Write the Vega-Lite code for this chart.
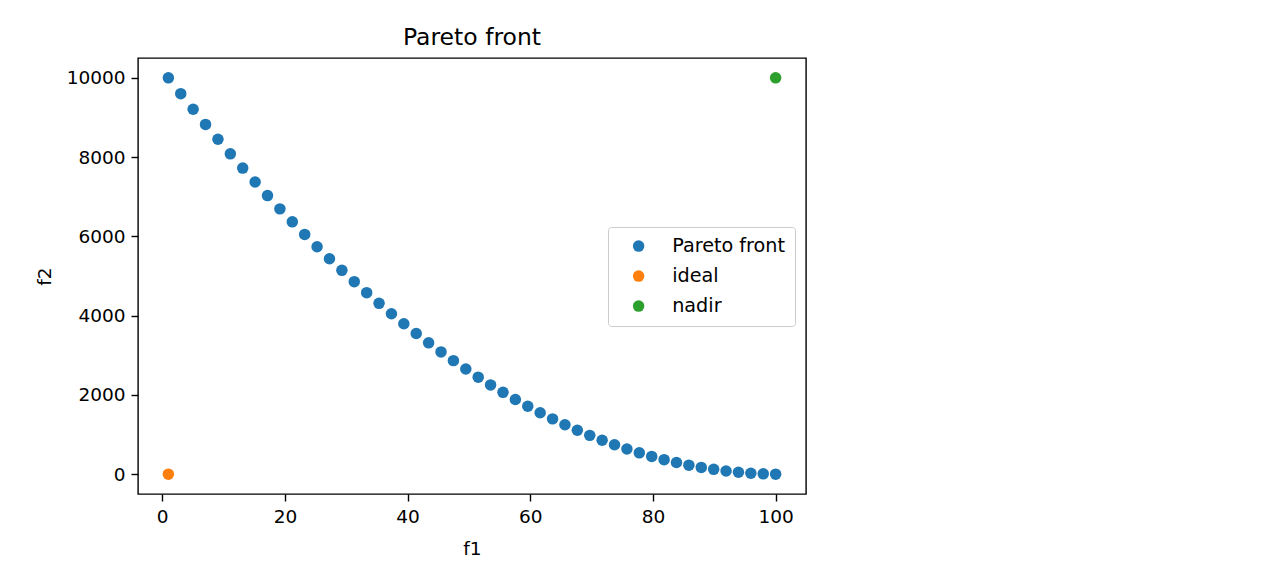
{
  "$schema": "https://vega.github.io/schema/vega-lite/v6.json",
  "autosize": {"type": "none"},
  "padding": {"left": 138, "top": 58, "right": 465, "bottom": 79},
  "width": 668,
  "height": 436,
  "background": "white",
  "title": {"text": "Pareto front", "font": "DejaVu Sans", "fontSize": 23.5, "fontWeight": "normal", "color": "#000", "baseline": "alphabetic", "offset": -10, "anchor": "middle"},
  "config": {
    "view": {"stroke": "#000", "strokeWidth": 1.4},
    "axis": {"domain": false, "grid": false, "labelFont": "DejaVu Sans", "labelFontSize": 18.5, "labelColor": "#000", "tickColor": "#000", "tickSize": 7, "tickWidth": 1.4, "labelPadding": 6, "titleFont": "DejaVu Sans", "titleFontSize": 18.5, "titleFontWeight": "normal", "titleColor": "#000"}
  },
  "data": {"values": [
    {"f1": 1.0, "f2": 10000, "series": "Pareto front"},
    {"f1": 3.02, "f2": 9600.08, "series": "Pareto front"},
    {"f1": 5.041, "f2": 9208.13, "series": "Pareto front"},
    {"f1": 7.061, "f2": 8824.54, "series": "Pareto front"},
    {"f1": 9.082, "f2": 8448.92, "series": "Pareto front"},
    {"f1": 11.102, "f2": 8081.65, "series": "Pareto front"},
    {"f1": 13.122, "f2": 7722.54, "series": "Pareto front"},
    {"f1": 15.143, "f2": 7371.42, "series": "Pareto front"},
    {"f1": 17.163, "f2": 7028.64, "series": "Pareto front"},
    {"f1": 19.184, "f2": 6693.86, "series": "Pareto front"},
    {"f1": 21.204, "f2": 6367.4, "series": "Pareto front"},
    {"f1": 23.224, "f2": 6049.11, "series": "Pareto front"},
    {"f1": 25.245, "f2": 5738.82, "series": "Pareto front"},
    {"f1": 27.265, "f2": 5436.85, "series": "Pareto front"},
    {"f1": 29.286, "f2": 5142.9, "series": "Pareto front"},
    {"f1": 31.306, "f2": 4857.25, "series": "Pareto front"},
    {"f1": 33.327, "f2": 4579.64, "series": "Pareto front"},
    {"f1": 35.347, "f2": 4310.32, "series": "Pareto front"},
    {"f1": 37.367, "f2": 4049.16, "series": "Pareto front"},
    {"f1": 39.388, "f2": 3796.04, "series": "Pareto front"},
    {"f1": 41.408, "f2": 3551.21, "series": "Pareto front"},
    {"f1": 43.429, "f2": 3314.42, "series": "Pareto front"},
    {"f1": 45.449, "f2": 3085.91, "series": "Pareto front"},
    {"f1": 47.469, "f2": 2865.57, "series": "Pareto front"},
    {"f1": 49.49, "f2": 2653.28, "series": "Pareto front"},
    {"f1": 51.51, "f2": 2449.26, "series": "Pareto front"},
    {"f1": 53.531, "f2": 2253.31, "series": "Pareto front"},
    {"f1": 55.551, "f2": 2065.61, "series": "Pareto front"},
    {"f1": 57.571, "f2": 1886.08, "series": "Pareto front"},
    {"f1": 59.592, "f2": 1714.62, "series": "Pareto front"},
    {"f1": 61.612, "f2": 1551.41, "series": "Pareto front"},
    {"f1": 63.633, "f2": 1396.29, "series": "Pareto front"},
    {"f1": 65.653, "f2": 1249.41, "series": "Pareto front"},
    {"f1": 67.673, "f2": 1110.69, "series": "Pareto front"},
    {"f1": 69.694, "f2": 980.07, "series": "Pareto front"},
    {"f1": 71.714, "f2": 857.67, "series": "Pareto front"},
    {"f1": 73.735, "f2": 743.38, "series": "Pareto front"},
    {"f1": 75.755, "f2": 637.31, "series": "Pareto front"},
    {"f1": 77.776, "f2": 539.35, "series": "Pareto front"},
    {"f1": 79.796, "f2": 449.61, "series": "Pareto front"},
    {"f1": 81.816, "f2": 368.03, "series": "Pareto front"},
    {"f1": 83.837, "f2": 294.57, "series": "Pareto front"},
    {"f1": 85.857, "f2": 229.31, "series": "Pareto front"},
    {"f1": 87.878, "f2": 172.19, "series": "Pareto front"},
    {"f1": 89.898, "f2": 123.25, "series": "Pareto front"},
    {"f1": 91.918, "f2": 82.48, "series": "Pareto front"},
    {"f1": 93.939, "f2": 49.86, "series": "Pareto front"},
    {"f1": 95.959, "f2": 25.41, "series": "Pareto front"},
    {"f1": 97.98, "f2": 9.12, "series": "Pareto front"},
    {"f1": 100.0, "f2": 1, "series": "Pareto front"},
    {"f1": 1.0, "f2": 1, "series": "ideal"},
    {"f1": 100.0, "f2": 10000, "series": "nadir"}
  ]},
  "mark": {"type": "point", "filled": true, "shape": "circle", "size": 132, "opacity": 1},
  "encoding": {
    "x": {"field": "f1", "type": "quantitative", "title": "f1",
      "scale": {"domain": [-3.95, 104.95], "nice": false, "zero": false},
      "axis": {"values": [0, 20, 40, 60, 80, 100], "titlePadding": 14}},
    "y": {"field": "f2", "type": "quantitative", "title": "f2",
      "scale": {"domain": [-498.95, 10499.95], "nice": false, "zero": false},
      "axis": {"values": [0, 2000, 4000, 6000, 8000, 10000], "format": "d", "titlePadding": 12}},
    "color": {"field": "series", "type": "nominal", "sort": ["Pareto front", "ideal", "nadir"],
      "scale": {"domain": ["Pareto front", "ideal", "nadir"], "range": ["#1f77b4", "#ff7f0e", "#2ca02c"]},
      "legend": {"title": null, "orient": "none", "legendX": 470, "legendY": 169,
        "padding": 9.5, "fillColor": "white", "strokeColor": "#cccccc", "cornerRadius": 3,
        "symbolType": "circle", "symbolSize": 132, "symbolOffset": 11.5, "labelOffset": 24,
        "labelFont": "DejaVu Sans", "labelFontSize": 19.2, "labelColor": "#000", "rowPadding": 10, "symbolStrokeWidth": 0, "symbolOpacity": 1}}
  }
}
